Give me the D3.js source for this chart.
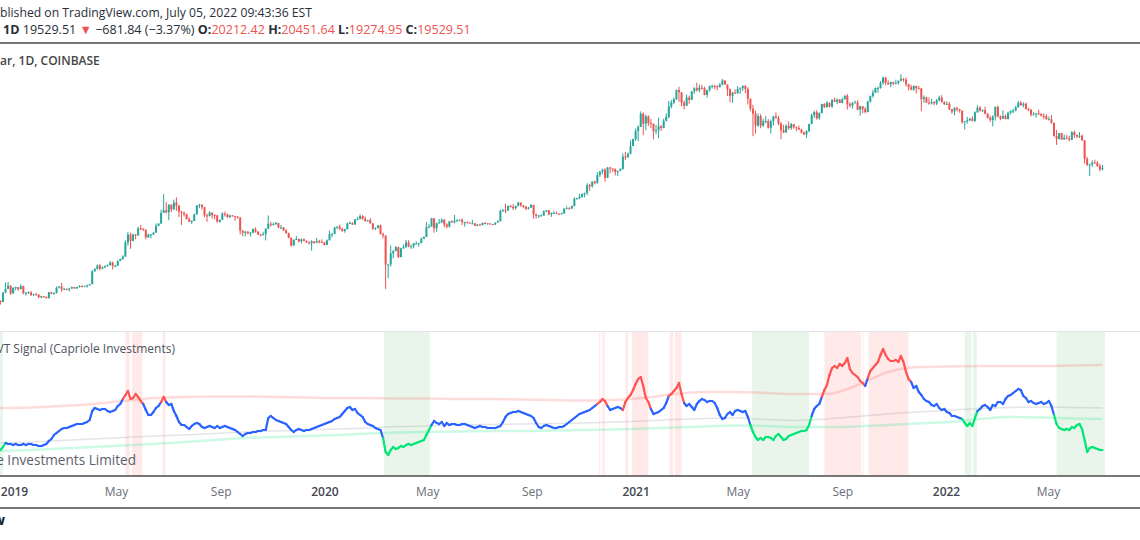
<!DOCTYPE html>
<html><head><meta charset="utf-8">
<script src="https://cdn.jsdelivr.net/npm/d3@7"></script>
<style>html,body{margin:0;padding:0;background:#fff;overflow:hidden}svg{display:block;font-family:"Open Sans",sans-serif}</style>
</head><body><svg id="c" width="1140" height="540"></svg>
<script>
// ---------- DATA ----------
const startDate = "2018-12-15";   // first 3-day candle
const stepDays = 3;
const firstOpen = 3.28;           // thousand USD
const closes = [
3.23,3.66,3.85,4.02,3.62,3.90,3.94,3.84,4.00,3.64,
3.65,3.68,3.55,3.58,3.57,3.44,3.49,3.46,3.40,3.68,
3.60,3.63,3.92,3.98,3.83,3.85,3.82,3.88,3.95,3.88,
3.95,4.00,3.99,4.00,4.04,4.10,4.88,5.04,5.28,5.05,
5.15,5.23,5.30,5.50,5.25,5.25,5.60,5.75,5.95,7.20,
8.00,7.35,8.00,7.90,8.70,8.65,8.55,7.70,8.00,8.00,
8.20,8.98,9.27,10.70,11.10,10.80,11.95,11.20,12.30,11.80,
10.85,10.70,10.50,9.85,9.50,9.60,10.50,11.80,11.95,11.55,
10.35,10.25,10.75,10.40,10.35,9.50,9.75,10.60,10.50,10.10,
10.35,10.25,10.20,10.05,8.45,8.20,8.30,8.15,8.20,8.60,
8.30,8.00,7.95,8.05,8.65,9.25,9.15,9.20,9.35,8.80,
8.80,8.45,8.15,7.65,6.90,7.45,7.55,7.30,7.50,7.35,
7.20,7.10,7.30,7.15,7.32,7.25,7.20,6.95,7.40,8.05,
8.05,8.80,8.90,8.65,8.40,8.60,9.30,9.35,9.15,9.80,
9.85,10.25,9.90,9.60,9.70,9.30,8.70,8.75,9.05,8.05,
7.90,5.35,5.35,6.20,6.40,6.75,5.90,6.65,6.75,7.20,
6.85,6.85,7.10,7.10,7.15,7.55,7.75,8.85,8.90,9.95,
8.70,9.30,9.40,9.75,9.15,8.90,9.55,9.45,9.65,9.65,
9.75,9.45,9.45,9.40,9.30,9.30,9.00,9.15,9.08,9.35,
9.25,9.30,9.20,9.15,9.40,9.55,11.00,11.10,11.05,11.75,
11.60,11.40,11.75,12.30,11.85,11.65,11.30,11.50,11.90,10.50,
10.30,10.35,10.35,10.95,11.10,10.50,10.70,10.70,10.60,10.55,
10.65,11.30,11.40,11.35,11.75,12.95,13.05,13.30,13.80,14.00,
15.55,15.30,16.30,15.95,17.80,18.70,19.15,17.15,19.70,19.45,
19.35,18.55,18.80,19.25,22.80,22.70,23.70,26.30,28.90,32.20,
34.00,40.60,35.50,39.20,35.80,35.50,32.10,32.50,34.30,33.50,
36.90,38.90,44.80,47.20,49.20,55.90,54.20,47.10,45.20,50.50,
48.90,54.90,57.20,55.70,57.60,57.40,52.30,55.80,58.80,59.00,
58.80,58.00,60.00,63.50,60.10,56.40,51.70,54.00,53.60,56.60,
57.20,58.90,56.70,49.70,43.50,40.60,34.70,39.30,34.60,36.70,
36.80,33.60,36.70,39.10,38.30,35.50,32.50,31.60,34.50,33.50,
35.30,33.90,33.50,32.80,31.50,30.80,32.10,35.40,39.90,41.50,
38.20,40.90,46.30,44.40,47.10,44.70,48.90,47.70,49.00,46.90,
49.30,51.80,46.10,45.20,47.10,47.30,42.90,44.90,43.20,41.50,
47.70,51.50,53.90,57.40,57.40,61.50,65.90,61.30,60.30,62.20,
61.00,61.40,63.30,64.90,64.10,60.30,58.00,56.30,59.00,57.30,
57.00,49.40,50.60,47.10,46.70,47.60,46.70,48.60,50.40,47.50,
46.20,46.40,43.10,41.85,43.90,43.10,42.35,36.30,36.70,37.20,
37.90,36.90,41.40,44.00,42.40,42.60,40.50,38.40,37.30,39.10,
44.40,39.10,38.00,39.40,37.80,41.10,42.20,42.40,44.30,47.10,
45.50,46.40,43.20,42.75,40.10,40.55,40.80,40.50,39.45,39.25,
37.65,37.70,36.00,30.10,28.95,31.30,28.70,29.40,29.10,28.60,
31.70,30.50,29.90,30.20,28.40,22.10,20.45,20.55,21.10,21.00,
20.10,19.25,19.53];
const highs = [
3.30,3.70,4.20,4.23,4.05,3.95,3.97,3.92,4.10,4.02,
3.70,3.72,3.74,3.62,3.65,3.58,3.50,3.50,3.48,3.70,
3.70,3.68,3.98,4.00,4.18,3.90,3.87,3.90,3.98,3.93,
3.97,4.05,4.05,4.02,4.08,4.12,4.95,5.08,5.35,5.40,
5.20,5.28,5.35,5.60,5.55,5.33,5.65,5.80,6.05,7.40,
8.30,8.20,8.10,8.05,8.90,9.10,8.70,8.30,8.10,8.05,
8.30,9.30,9.30,11.20,13.80,12.40,12.00,12.00,12.80,13.20,
11.90,11.00,10.90,10.60,10.10,9.70,10.60,11.90,12.10,12.00,
11.60,10.60,10.95,10.75,10.50,10.40,9.80,10.80,10.90,10.60,
10.45,10.40,10.30,10.20,10.10,8.30,8.40,8.40,8.30,8.70,
8.80,8.40,8.10,8.30,8.70,10.35,9.50,9.40,9.50,9.35,
9.10,8.85,8.60,8.20,7.70,7.50,7.85,7.55,7.60,7.60,
7.40,7.30,7.40,7.30,7.65,7.45,7.50,7.25,7.50,8.45,
8.15,8.85,8.95,9.15,8.75,8.65,9.40,9.55,9.45,9.85,
10.15,10.50,10.40,10.20,9.75,10.00,9.30,8.80,9.10,9.15,
8.20,7.90,5.40,6.90,6.50,6.85,6.80,6.70,7.00,7.45,
7.40,7.00,7.15,7.30,7.15,7.70,7.80,9.45,9.20,9.95,
10.00,9.40,9.85,9.95,9.85,9.30,9.60,9.70,10.40,9.85,
9.80,9.95,9.50,9.55,9.40,9.75,9.30,9.20,9.25,9.40,
9.45,9.30,9.30,9.20,9.40,9.70,11.20,11.25,12.10,11.80,
11.90,12.05,11.80,12.45,12.30,11.90,11.75,11.60,12.05,11.95,
10.60,10.40,10.50,11.05,11.15,11.05,10.75,10.95,10.90,10.60,
10.75,11.45,11.70,11.55,11.80,13.20,13.10,13.85,13.90,14.05,
15.95,15.80,16.35,16.50,18.50,18.80,19.40,19.50,19.85,19.90,
19.40,19.40,18.90,19.55,23.80,24.30,24.10,28.40,29.00,33.30,
34.80,41.90,41.40,40.10,39.70,37.80,35.50,34.90,38.50,34.90,
38.00,40.90,48.20,48.90,50.60,56.30,58.35,54.20,48.40,52.60,
51.80,55.00,58.00,61.80,60.00,59.90,58.40,56.00,59.40,60.10,
59.90,59.50,61.30,64.85,63.80,57.50,57.00,54.40,56.40,58.90,
58.00,59.50,59.60,58.00,49.80,45.80,42.40,40.80,40.40,37.90,
39.30,37.80,37.50,39.40,41.30,39.50,36.40,35.00,35.30,36.60,
35.90,35.10,34.20,34.60,33.20,32.00,32.60,35.40,40.60,42.30,
42.60,41.40,46.40,46.80,48.10,47.20,49.40,50.50,49.90,49.50,
50.40,51.90,52.90,47.30,47.30,48.50,48.80,45.20,45.00,44.40,
48.40,51.90,56.00,57.80,58.50,62.90,67.00,66.60,63.70,62.50,
62.40,64.20,63.40,69.00,65.60,66.30,60.80,59.80,59.40,59.20,
59.00,57.40,51.90,51.00,50.50,49.50,47.90,49.50,51.80,52.10,
48.10,47.90,47.50,43.10,44.30,44.50,43.50,42.50,36.80,38.90,
38.40,39.30,41.90,45.50,45.00,43.00,44.70,40.90,39.50,39.80,
44.90,45.40,39.70,42.50,40.20,41.70,42.40,43.40,45.10,48.20,
48.20,47.40,47.20,44.00,43.40,41.60,40.90,42.90,40.80,40.80,
40.40,39.10,39.90,36.00,32.60,31.30,31.30,30.70,30.60,30.20,
32.10,32.40,30.70,31.70,30.70,28.40,22.70,20.80,21.70,21.90,
21.50,20.70,20.45];
const lows = [
3.12,3.23,3.65,3.85,3.55,3.62,3.78,3.76,3.83,3.58,
3.52,3.60,3.50,3.52,3.54,3.40,3.40,3.43,3.39,3.40,
3.58,3.58,3.63,3.88,3.70,3.80,3.78,3.72,3.85,3.85,
3.85,3.92,3.95,3.96,3.92,4.02,4.10,4.85,5.00,4.95,
5.02,5.10,5.20,5.28,5.00,5.15,5.25,5.60,5.70,5.95,
6.90,6.60,7.30,7.50,7.90,8.50,8.40,7.50,7.65,7.60,
7.95,8.20,8.95,9.27,10.70,10.60,9.70,10.80,11.20,11.00,
10.10,9.10,10.20,9.80,9.45,9.20,9.60,10.50,11.40,11.20,
10.10,9.50,10.20,9.90,9.80,9.40,9.40,9.75,10.20,10.00,
10.05,10.20,9.60,9.90,8.00,7.80,7.80,8.00,7.80,8.15,
8.20,7.95,7.80,7.90,7.40,8.60,8.90,9.05,9.10,8.70,
8.60,8.40,8.10,7.60,6.80,6.90,7.45,7.20,7.10,7.30,
7.15,7.00,6.45,7.10,7.20,7.10,7.20,6.90,6.95,7.40,
7.70,8.05,8.60,8.50,8.30,8.20,8.60,9.20,9.10,9.15,
9.80,9.85,9.75,9.50,9.50,9.25,8.50,8.50,8.70,8.00,
7.60,3.85,4.45,5.20,5.80,6.40,5.85,5.90,6.60,6.70,
6.75,6.60,6.65,7.00,6.80,7.10,7.65,7.75,8.70,8.90,
8.20,8.30,9.30,9.40,8.80,8.70,8.80,9.35,9.30,9.55,
9.60,9.10,8.90,9.30,9.25,9.25,8.95,8.95,9.05,9.05,
9.20,9.15,9.15,9.10,9.10,9.40,9.55,10.85,10.65,11.00,
11.50,11.10,11.20,11.70,11.60,11.40,11.10,11.20,11.45,9.90,
9.90,10.00,10.20,10.30,10.80,10.35,10.15,10.65,10.55,10.40,
10.50,10.55,11.30,11.20,11.30,11.70,12.80,12.90,13.10,13.20,
13.55,14.40,15.05,15.70,15.90,17.35,18.00,16.30,17.10,18.20,
18.60,17.70,17.60,18.80,19.25,21.80,22.35,23.50,26.50,28.20,
28.10,34.00,30.40,32.50,34.40,33.40,28.80,30.80,29.20,32.20,
33.40,36.60,38.10,43.70,46.20,49.00,47.60,44.90,43.00,45.00,
46.30,49.40,53.00,54.60,54.20,56.20,52.00,50.40,54.70,57.00,
56.50,55.50,57.90,59.40,60.00,51.50,47.50,47.00,53.00,53.00,
53.00,55.20,53.40,46.00,42.00,30.00,31.10,34.00,33.40,34.00,
35.60,33.30,31.00,34.60,38.10,34.80,28.80,31.30,31.30,32.70,
32.70,33.20,32.10,32.70,31.10,30.40,29.30,31.70,35.20,38.30,
37.50,37.50,42.80,43.80,44.20,44.20,44.00,47.60,46.30,46.90,
46.70,49.20,43.00,44.20,43.40,46.80,42.50,39.60,40.80,40.80,
41.60,47.20,50.40,53.70,53.80,56.90,60.00,59.50,59.80,58.00,
59.50,60.20,60.00,62.80,62.30,58.60,55.60,55.70,55.10,53.30,
56.50,42.00,47.10,47.00,45.80,46.00,45.50,45.60,48.00,47.30,
45.70,45.70,42.50,40.50,39.70,41.80,41.20,35.50,32.90,35.50,
36.80,36.60,36.30,41.10,41.70,41.60,40.40,38.00,36.40,34.30,
37.00,38.60,37.20,38.00,37.60,37.60,40.20,40.90,41.90,44.10,
45.20,44.20,43.00,42.10,39.20,39.60,38.50,40.10,39.20,37.70,
37.60,37.40,35.50,29.80,26.70,28.70,28.60,28.70,28.80,28.00,
28.50,29.30,29.20,29.30,28.20,20.80,20.10,17.60,19.80,20.80,
19.90,18.70,18.95];
// NVT signal, same 3-day dates
const nvt = [
26,29,33,32,32,31,32,31,31,32, 31,32,32,31,31,30,30,31,32,35,
37,41,43,45,47,48,48,49,50,51, 52,52,52,53,54,56,65,68,67,66,
67,67,65,64,65,66,70,72,77,81, 85,77,78,82,79,75,72,66,61,61,
64,68,70,74,79,74,71,72,65,60, 54,51,51,49,47,50,52,53,52,49,
48,49,50,49,48,50,48,49,50,49, 48,47,46,44,42,40,42,43,43,44,
44,45,45,46,46,58,60,58,56,55, 54,53,52,49,46,44,46,47,46,45,
46,46,47,48,49,50,51,52,53,54, 55,57,58,59,62,65,68,69,66,67,
63,61,59,54,52,51,50,48,47,46, 38,24,21,26,29,27,28,30,29,31,
32,31,32,33,34,35,36,41,46,51, 55,53,52,54,50,53,51,52,52,51,
51,52,52,51,50,49,48,49,50,49, 49,48,48,48,48,49,50,54,59,62,
63,64,64,65,64,63,62,61,60,58, 53,49,48,50,51,50,49,48,48,49,
49,50,52,54,56,58,60,62,63,64, 65,66,68,70,72,74,77,75,70,66,
67,68,69,68,66,74,78,81,86,92, 97,99,90,78,74,67,62,63,64,66,
68,73,80,82,85,88,93,82,73,70, 72,69,66,72,75,77,76,74,75,75,
73,68,61,57,58,62,64,61,65,66, 65,64,65,59,51,44,39,36,38,36,
39,39,38,36,40,42,39,36,37,40, 41,42,43,44,45,45,46,51,60,67,
70,72,79,86,91,101,108,110,108,112, 110,113,118,107,103,101,99,95,93,90,
98,105,108,111,114,121,127,121,117,115, 115,116,114,120,114,104,97,94,88,90,
84,81,77,75,74,71,70,72,68,66, 67,64,63,60,60,59,58,57,53,50,
53,50,58,65,67,70,71,69,66,71, 70,74,74,72,77,80,81,83,85,87,
86,80,78,74,75,73,72,73,74,72, 73,75,70,61,52,48,47,46,47,46,
49,48,51,52,47,36,24,28,29,28, 27,26,26];
const bandStep = 12; // every 12th candle
const upperBand = [68,68.5,70,72,75,78,79,79.5,79.5,79,78.5,78,78,77.5,77.5,77,77,76.5,76,75.5,76,78,82,84,84,83,82,82,91,104,109,109.5,110,110,110,110.5,111];
const midBand   = [33,34,35.5,37,38.5,40,41,42.5,44,45,46,47,48,49.5,50,51,51.5,52,52.5,53,54,55,56.5,57.5,58,56.5,55.5,57,59.5,62,64,66,67.5,68.5,69,68.5,68];
const lowerBand = [25,26,27.5,29,30.5,32,34,36,38,39,40,41,42.5,43.5,44,44.5,45,45,45.5,46,46.5,47.5,48.5,49.5,50.5,50,49,49,49.5,51,52.5,54,57,59,58.5,57.5,57];
const greenZones = [["2018-12-14","2018-12-19"],["2020-03-11","2020-05-04"],["2021-05-18","2021-07-24"],["2022-01-23","2022-01-31"],["2022-02-02","2022-02-06"],["2022-05-11","2022-07-07"]];
const redZones = [["2019-05-12","2019-05-17"],["2019-05-20","2019-06-01"],["2019-06-25","2019-06-28"],["2020-11-19","2020-11-20"],["2020-11-22","2020-11-23"],["2020-11-24","2020-11-26"],["2020-12-20","2020-12-23"],["2020-12-28","2021-01-16"],["2021-02-10","2021-02-14"],["2021-02-16","2021-02-24"],["2021-08-11","2021-09-23"],["2021-09-25","2021-09-26"],["2021-10-02","2021-11-18"]];
const tickDates  = ["2019-01-01","2019-05-01","2019-09-01","2020-01-01","2020-05-01","2020-09-01","2021-01-01","2021-05-01","2021-09-01","2022-01-01","2022-05-01"];
const tickLabels = ["2019","May","Sep","2020","May","Sep","2021","May","Sep","2022","May"];

// ---------- DRAW ----------
const parse = d3.utcParse("%Y-%m-%d");
const DAY = 864e5;
const t0 = parse(startDate);
const W = 1140;
const svg = d3.select("#c");
const x = d3.scaleUtc().domain([parse("2019-01-01"), parse("2022-01-01")]).range([14, 946]);
const yP = d3.scaleLog().domain([3, 80]).range([307.5, 63.3]);
const yN = d3.scaleLinear().domain([0, 144]).range([476, 332]);
const UP = "#26a69a", DN = "#ef5350";
const tAt = i => new Date(+t0 + (i * stepDays + 1) * DAY);

const defs = svg.append("defs");
defs.append("clipPath").attr("id","cp").append("rect").attr("x",0).attr("y",44).attr("width",W).attr("height",287);
defs.append("clipPath").attr("id","cn").append("rect").attr("x",0).attr("y",332).attr("width",W).attr("height",144);

// price candles
const candles = closes.map((c, i) => {
  const o = i ? closes[i-1] : firstOpen;
  return {t: tAt(i), o, c, h: Math.max(highs[i], o, c), l: Math.min(lows[i], o, c)};
});
const cw = (x(tAt(1)) - x(tAt(0))) * 0.78;
const gP = svg.append("g").attr("clip-path","url(#cp)");
gP.selectAll("line").data(candles).join("line")
  .attr("x1", d => x(d.t)).attr("x2", d => x(d.t))
  .attr("y1", d => yP(d.h)).attr("y2", d => yP(d.l))
  .attr("stroke", d => d.c >= d.o ? UP : DN).attr("stroke-width", 1);
gP.selectAll("rect").data(candles).join("rect")
  .attr("x", d => x(d.t) - cw/2).attr("width", cw)
  .attr("y", d => yP(Math.max(d.o, d.c)))
  .attr("height", d => Math.max(1, Math.abs(yP(d.o) - yP(d.c))))
  .attr("fill", d => d.c >= d.o ? UP : DN);

// separator
svg.append("line").attr("x1",0).attr("x2",W).attr("y1",331.5).attr("y2",331.5).attr("stroke","#e0e3eb");

// indicator pane
const gN = svg.append("g").attr("clip-path","url(#cn)");
const gz = greenZones.map(z => ({a: parse(z[0]), b: parse(z[1])}));
const rz = redZones.map(z => ({a: parse(z[0]), b: parse(z[1])}));
gN.selectAll("rect.g").data(gz).join("rect").attr("class","g")
  .attr("x", d => x(d.a)).attr("width", d => x(d.b) - x(d.a))
  .attr("y", 332).attr("height", 144).attr("fill","rgba(76,175,80,0.12)");
gN.selectAll("rect.r").data(rz).join("rect").attr("class","r")
  .attr("x", d => x(d.a)).attr("width", d => x(d.b) - x(d.a))
  .attr("y", 332).attr("height", 144).attr("fill","rgba(255,82,82,0.13)");

const band = arr => arr.map((v, k) => ({t: tAt(k * bandStep), v}));
const bl = d3.line().x(d => x(d.t)).y(d => yN(d.v)).curve(d3.curveMonotoneX);
gN.append("path").attr("d", bl(band(upperBand))).attr("fill","none").attr("stroke","rgba(255,82,82,0.2)").attr("stroke-width",2.5);
gN.append("path").attr("d", bl(band(midBand))).attr("fill","none").attr("stroke","rgba(120,123,134,0.2)").attr("stroke-width",1.5);
gN.append("path").attr("d", bl(band(lowerBand))).attr("fill","none").attr("stroke","rgba(0,230,118,0.2)").attr("stroke-width",2.5);

const pts = nvt.map((v, i) => ({t: tAt(i), v}));
const segs = d3.pairs(pts).map(([a, b]) => {
  const ov = z => z.a <= b.t && z.b >= a.t;
  const col = rz.some(ov) ? "#ff5252" : gz.some(ov) ? "#00e676" : "#2962ff";
  return {a, b, col};
});
gN.selectAll("line.n").data(segs).join("line").attr("class","n")
  .attr("x1", d => x(d.a.t)).attr("y1", d => yN(d.a.v))
  .attr("x2", d => x(d.b.t)).attr("y2", d => yN(d.b.v))
  .attr("stroke", d => d.col).attr("stroke-width", 2.2).attr("stroke-linecap","round");

// pane texts
svg.append("text").attr("x",175).attr("y",353).attr("text-anchor","end")
  .attr("font-size",12).attr("fill","#50535e").text("NVT Signal (Capriole Investments)");
svg.append("text").attr("x",136).attr("y",465).attr("text-anchor","end")
  .attr("font-size",13.6).attr("fill","#5d606b").text("Capriole Investments Limited");

// x axis
const gA = svg.append("g").attr("transform","translate(0,476)")
  .call(d3.axisBottom(x).tickValues(tickDates.map(parse))
    .tickFormat((d, i) => tickLabels[i]).tickSize(0).tickPadding(11));
gA.select(".domain").remove();
gA.selectAll("text").attr("font-family","Open Sans").attr("font-size",12)
  .attr("fill", (d, i) => /^\d/.test(tickLabels[i]) ? "#434651" : "#6a6d78")
  .attr("font-weight", (d, i) => /^\d/.test(tickLabels[i]) ? 600 : 400);
[43, 476, 508].forEach(y => svg.append("line").attr("x1",0).attr("x2",W)
  .attr("y1",y).attr("y2",y).attr("stroke","#4a4a4a").attr("stroke-width",1.3));

// header
function placeCut(textSel, hiddenChars, xVis) {
  const n = textSel.node();
  const w = hiddenChars > 0 ? n.getSubStringLength(0, hiddenChars) : 0;
  textSel.attr("x", xVis - w);
}
const h1 = svg.append("text").attr("y",17).attr("font-size",12.2).attr("fill","#2a2e39")
  .text("Published on TradingView.com, July 05, 2022 09:43:36 EST");
placeCut(h1, 2, 0);

const h2 = svg.append("text").attr("y",34).attr("font-size",12.55).attr("fill","#2a2e39");
const parts = [
  ["BTCUSD, 1D", 700, "#2a2e39"], [" 19529.51 ", 400, "#2a2e39"], ["\u25BC", 400, "#ef5350"],
  [" \u2212681.84 (\u22123.37%) ", 400, "#2a2e39"],
  ["O:", 700, "#2a2e39"], ["20212.42", 400, "#ef5350"],
  [" H:", 700, "#2a2e39"], ["20451.64", 400, "#ef5350"],
  [" L:", 700, "#2a2e39"], ["19274.95", 400, "#ef5350"],
  [" C:", 700, "#2a2e39"], ["19529.51", 400, "#ef5350"]];
parts.forEach(p => h2.append("tspan").attr("font-weight", p[1]).attr("fill", p[2]).text(p[0]));
placeCut(h2, 8, 3);

const h3 = svg.append("text").attr("y",65).attr("font-size",12).attr("font-weight",600).attr("fill","#454545")
  .text("Bitcoin / U.S. Dollar, 1D, COINBASE");
placeCut(h3, 19, 0);

svg.append("text").attr("x",5).attr("y",525).attr("text-anchor","end")
  .attr("font-size",14).attr("font-weight",700).attr("fill","#131722").text("TradingView");
</script></body></html>
